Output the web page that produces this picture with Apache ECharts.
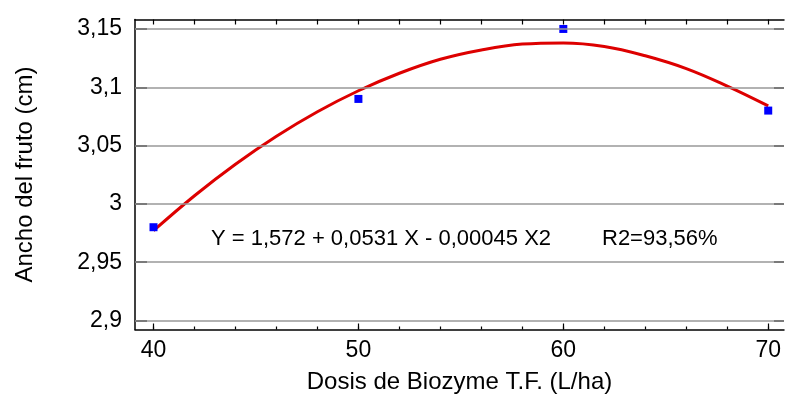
<!DOCTYPE html>
<html>
<head>
<meta charset="utf-8">
<script src="https://cdn.jsdelivr.net/npm/echarts@6/dist/echarts.min.js"></script>
<style>html,body{margin:0;padding:0;background:#fff}#c{width:785px;height:401px}</style>
</head>
<body>
<div id="c"></div>
<script>
// Observed points
var obsX = [40, 50, 60, 70];
var obsY = [2.98, 3.09, 3.15, 3.08];
// Fitted curve
var curveX = [40, 42, 44, 46, 48, 50, 52, 54, 56, 58, 60, 62, 64, 66, 68, 70];
var curveY = [2.977, 3.007, 3.034, 3.058, 3.079, 3.097, 3.112, 3.124, 3.132, 3.137, 3.138, 3.135, 3.127, 3.116, 3.101, 3.084];
// Tick values
var xLabelTicks = [40, 50, 60, 70];
var xMinorTicks = [40, 42, 44, 46, 48, 50, 52, 54, 56, 58, 60, 62, 64, 66, 68, 70];
var yTicks = [2.9, 2.95, 3.0, 3.05, 3.1, 3.15];
var xTitle = 'Dosis de Biozyme T.F. (L/ha)';
var yTitle = 'Ancho del fruto (cm)';
var eqText = 'Y = 1,572 + 0,0531 X - 0,00045 X2';
var r2Text = 'R2=93,56%';

var FONT = 'Liberation Sans, Arial, sans-serif';
var xMin = 39.097, xMax = 70.77, yMin = 2.8923, yMax = 3.1581;

function zip(a, b) { return a.map(function (v, i) { return [v, b[i]]; }); }
function comma(v) { return String(+v.toFixed(4)).replace('.', ','); }

var chart = echarts.init(document.getElementById('c'), null, { renderer: 'canvas' });
chart.setOption({
  animation: false,
  backgroundColor: '#fff',
  grid: { left: 135, top: 19.5, width: 649, height: 310, containLabel: false },
  xAxis: [
    {
      type: 'value', position: 'bottom', min: xMin, max: xMax,
      axisLine: { show: true, lineStyle: { color: '#000', width: 1.5 } },
      axisTick: { show: true, inside: true, length: 3, customValues: xMinorTicks, lineStyle: { color: '#000', width: 1.2 } },
      axisLabel: { show: true, customValues: xLabelTicks, fontSize: 23, fontFamily: FONT, color: '#000', margin: 10, formatter: comma },
      splitLine: { show: false },
      name: xTitle, nameLocation: 'middle', nameGap: 41,
      nameTextStyle: { fontSize: 24, fontFamily: FONT, color: '#000' }
    },
    {
      type: 'value', position: 'bottom', min: xMin, max: xMax,
      axisLine: { show: false },
      axisTick: { show: true, inside: true, length: 6, customValues: xLabelTicks, lineStyle: { color: '#000', width: 1.2 } },
      axisLabel: { show: false },
      splitLine: { show: false }
    },
    {
      type: 'value', position: 'top', min: xMin, max: xMax,
      axisLine: { show: true, lineStyle: { color: '#000', width: 1.5 } },
      axisTick: { show: true, inside: true, length: 5, customValues: xMinorTicks, lineStyle: { color: '#000', width: 1.2 } },
      axisLabel: { show: false },
      splitLine: { show: false }
    }
  ],
  yAxis: [
    {
      type: 'value', position: 'left', min: yMin, max: yMax,
      axisLine: { show: true, lineStyle: { color: '#000', width: 1.5 } },
      axisTick: { show: true, inside: true, length: 12, customValues: yTicks, lineStyle: { color: '#222', width: 2 } },
      axisLabel: { show: true, customValues: yTicks, fontSize: 23, fontFamily: FONT, color: '#000', margin: 13, formatter: comma },
      splitLine: { show: false },
      name: yTitle, nameLocation: 'middle', nameRotate: 90, nameGap: 98,
      nameTextStyle: { fontSize: 24, fontFamily: FONT, color: '#000' }
    },
    {
      type: 'value', position: 'right', min: yMin, max: yMax,
      axisLine: { show: false },
      axisTick: { show: true, inside: true, length: 10, customValues: yTicks, lineStyle: { color: '#222', width: 2 } },
      axisLabel: { show: false },
      splitLine: { show: false }
    }
  ],
  series: [
    {
      type: 'line', xAxisIndex: 0, yAxisIndex: 0, data: [], silent: true,
      markLine: {
        silent: true, symbol: 'none', label: { show: false },
        lineStyle: { color: '#999', width: 1.5, type: 'solid' },
        data: yTicks.map(function (v) { return { yAxis: v }; })
      },
      z: 1
    },
    {
      type: 'line', xAxisIndex: 0, yAxisIndex: 0, data: zip(curveX, curveY),
      smooth: 0.4, showSymbol: false, symbol: 'none',
      lineStyle: { color: '#dd0000', width: 3 }, z: 3
    },
    {
      type: 'scatter', xAxisIndex: 0, yAxisIndex: 0, data: zip(obsX, obsY),
      symbol: 'rect', symbolSize: 8, itemStyle: { color: '#0000ff', opacity: 1 }, z: 4
    }
  ],
  graphic: [
    { type: 'text', left: 211, top: 228, style: { text: eqText, fontSize: 22, fontFamily: FONT, fill: '#000' }, z: 10 },
    { type: 'text', left: 602, top: 228, style: { text: r2Text, fontSize: 22, fontFamily: FONT, fill: '#000' }, z: 10 }
  ]
});
</script>
</body>
</html>
